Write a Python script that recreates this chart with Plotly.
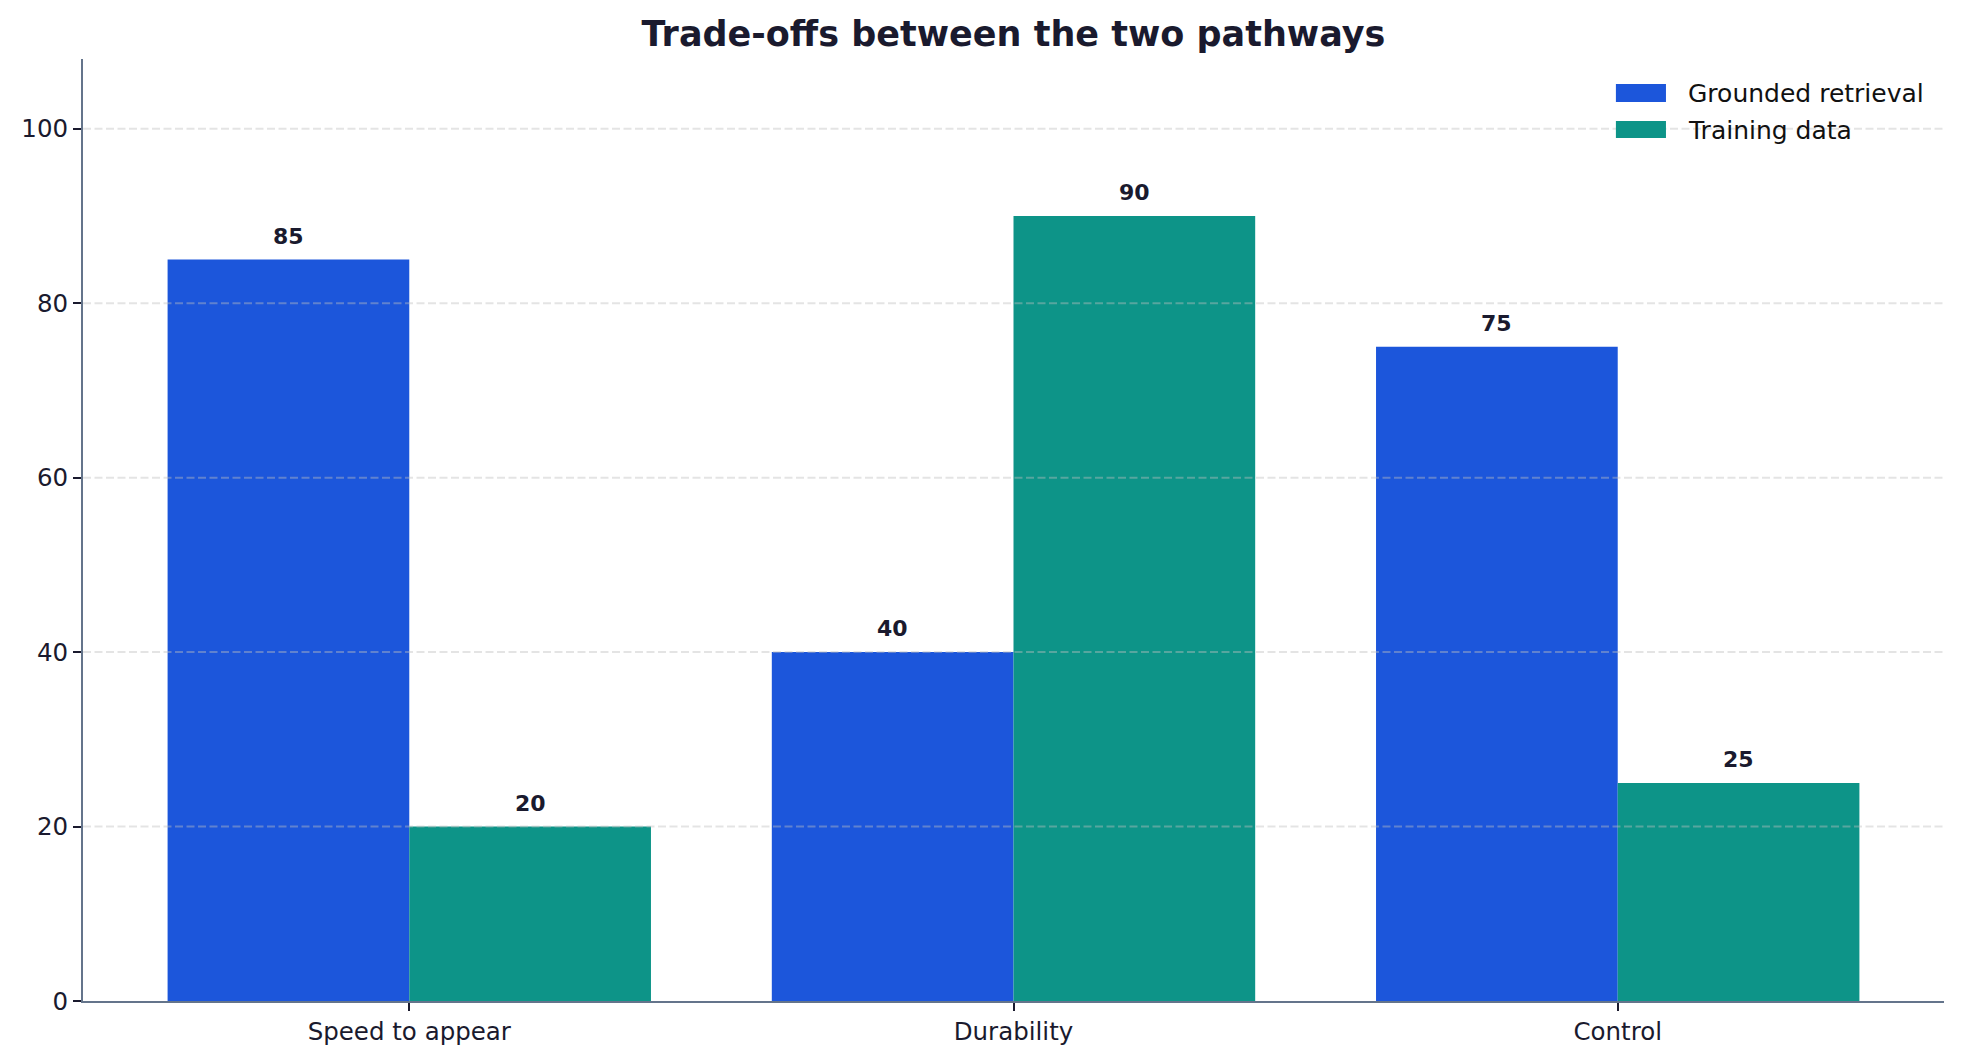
import plotly.graph_objects as go

# Data
categories = ["Speed to appear", "Durability", "Control"]
grounded = [85, 40, 75]
training = [20, 90, 25]
y_ticks = [0, 20, 40, 60, 80, 100]

BLUE = "#1C56DB"
TEAL = "#0D9488"
INK = "#1a1a2e"
SPINE = "#64748B"
FONT = "DejaVu Sans"

xpos = list(range(len(categories)))
bw = 0.4

fig = go.Figure()
fig.add_trace(go.Bar(name="Grounded retrieval", x=[i - bw / 2 for i in xpos], y=grounded,
                     width=bw, marker=dict(color=BLUE, line=dict(width=0)), showlegend=False))
fig.add_trace(go.Bar(name="Training data", x=[i + bw / 2 for i in xpos], y=training,
                     width=bw, marker=dict(color=TEAL, line=dict(width=0)), showlegend=False))

# value labels above bars
for i in xpos:
    for off, vals in ((-bw / 2, grounded), (bw / 2, training)):
        fig.add_annotation(x=i + off, y=vals[i], text=str(vals[i]), showarrow=False,
                           xref="x", yref="y", yanchor="bottom", yshift=9,
                           font=dict(family=FONT, size=22, color=INK, weight="bold"))

# dashed grid drawn above the bars
for t in y_ticks[1:]:
    fig.add_shape(type="line", xref="paper", x0=0, x1=1, yref="y", y0=t, y1=t,
                  line=dict(color="rgba(190,190,190,0.42)", width=2, dash="8px,3.5px"),
                  layer="above")

# custom legend (matplotlib-style patches)
legend_items = [("Grounded retrieval", BLUE, 0.9544, 0.9735, 0.9639),
                ("Training data", TEAL, 0.9161, 0.9342, 0.9246)]
for label, col, y0, y1, yt in legend_items:
    fig.add_shape(type="rect", xref="paper", yref="paper", x0=0.8237, x1=0.8506,
                  y0=y0, y1=y1, fillcolor=col, line=dict(width=0), layer="above")
    fig.add_annotation(xref="paper", yref="paper", x=0.8614, y=yt, text=label,
                       showarrow=False, xanchor="left", yanchor="middle",
                       font=dict(family=FONT, size=25, color="#111111"))

fig.update_layout(
    width=1945, height=1046,
    margin=dict(l=75, r=9, t=51, b=53),
    plot_bgcolor="white", paper_bgcolor="white",
    barmode="overlay",
    title=dict(text="Trade-offs between the two pathways", x=0.5, xref="paper",
               y=1 - 26 / 1046, yref="container", yanchor="middle",
               font=dict(family=FONT, size=35, color=INK, weight="bold")),
    font=dict(family=FONT, color=INK),
)
fig.update_xaxes(range=[-0.54, 2.54], tickvals=xpos, ticktext=categories,
                 showgrid=False, zeroline=False, showline=True, linecolor=SPINE,
                 linewidth=2, ticks="outside", ticklen=8, tickwidth=1.5,
                 tickcolor=INK, tickfont=dict(family=FONT, size=24.5, color=INK))
fig.update_yaxes(range=[0, 108], tickvals=y_ticks, showgrid=False, zeroline=False,
                 showline=True, linecolor=SPINE, linewidth=2, ticks="outside",
                 ticklen=8, tickwidth=1.5, tickcolor=INK,
                 tickfont=dict(family=FONT, size=24.5, color=INK))

fig.write_html("out.html")
